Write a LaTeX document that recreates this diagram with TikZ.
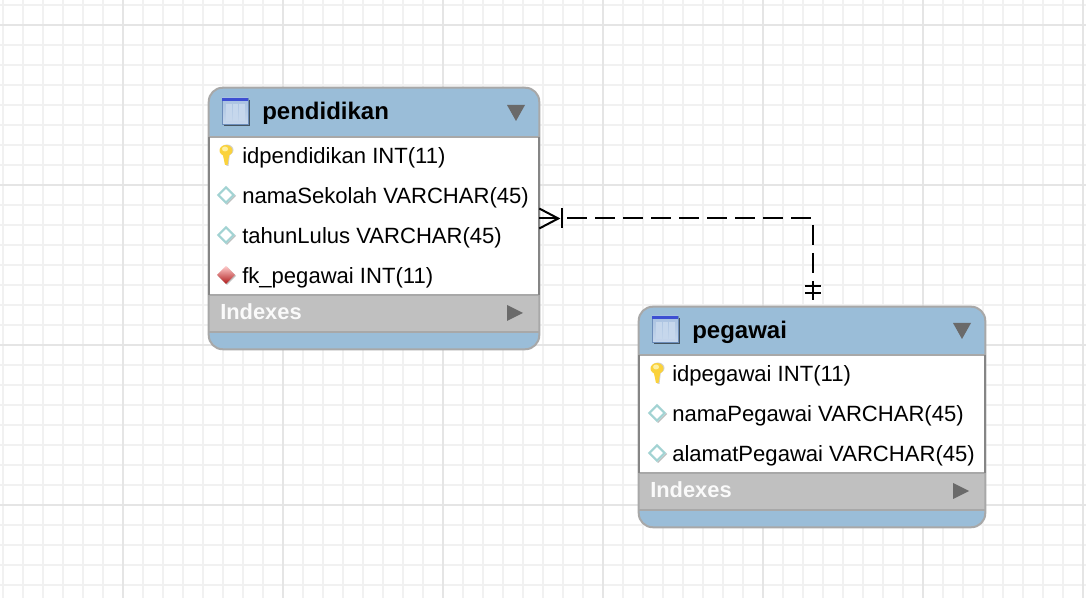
\documentclass[tikz,border=0pt]{standalone}
\usepackage{fontspec}
\setmainfont{Liberation Sans}
\definecolor{hdr}{HTML}{9ABDD8}
\definecolor{idx}{HTML}{C0C0C0}
\definecolor{edge}{HTML}{A8A8A8}
\definecolor{sidee}{HTML}{858585}
\definecolor{gridminor}{HTML}{F1F1F1}
\definecolor{gridmajor}{HTML}{E5E5E5}
\definecolor{tri}{HTML}{6A6A6A}
\definecolor{icbody}{HTML}{A8C1E0}
\definecolor{iccol}{HTML}{C6D7EC}
\definecolor{icbar}{HTML}{3D4FD2}
\definecolor{icline}{HTML}{6C8DBA}
\definecolor{keygold}{HTML}{FAD23C}
\definecolor{keylight}{HTML}{FDF0A0}
\definecolor{dmteal}{HTML}{A2D3D3}
\tikzset{
  tablebox/.style={rectangle,rounded corners=10.5pt,fill=white,inner sep=0pt},
  titletext/.style={anchor=base west,inner sep=0pt,font=\fontsize{18}{20}\selectfont\bfseries,text=black},
  rowtext/.style={anchor=base west,inner sep=0pt,font=\fontsize{16.55}{18}\selectfont,text=black},
  idxtext/.style={anchor=base west,inner sep=0pt,font=\fontsize{16.4}{18}\selectfont\bfseries,text=white!92!idx},
  dashconn/.style={draw=black,line width=1.5pt,dash pattern=on 15pt off 6pt},
  solidconn/.style={draw=black,line width=1.5pt},
  pics/tableicon/.style={code={
    \fill[black!55!hdr] (2,2) rectangle (28,28);
    \shade[top color=icbody,bottom color=iccol] (0,0) rectangle (26,26);
    \fill[iccol] (4,6) rectangle (9.5,23);
    \fill[iccol] (11,6) rectangle (15.5,23);
    \fill[iccol] (17,6) rectangle (22.5,23);
    \draw[icline,line width=.7pt] (0,0) rectangle (26,26);
    \fill[icbar] (0,0) rectangle (26,3.5);
  }},
  pics/keyicon/.style={code={
    \fill[black!18] (1,-3) ellipse (6.5 and 5.5);
    \fill[black!18] (-1,0) -- (4,0) -- (2.5,13) -- (.5,13) -- cycle;
    \fill[keygold] (0,-2.5) ellipse (6.5 and 5.5);
    \fill[keygold] (-3.5,0) -- (3.5,0) -- (1.5,12) -- (-1,12) -- cycle;
    \fill[keylight] (-1,-4) ellipse (3 and 2.5);
  }},
  pics/coldiamond/.style={code={
    \fill[black!25] (1,-8) -- (10,1) -- (1,10) -- (-8,1) -- cycle;
    \fill[white] (0,-9) -- (9,0) -- (0,9) -- (-9,0) -- cycle;
    \draw[dmteal,line width=1.6pt] (0,-7.6) -- (7.6,0) -- (0,7.6) -- (-7.6,0) -- cycle;
  }},
  pics/fkdiamond/.style={code={
    \fill[black!25] (1,-8) -- (10,1) -- (1,10) -- (-8,1) -- cycle;
    \shade[top color=red!20!white,bottom color=red!65!black!90!white] (0,-9) -- (9,0) -- (0,9) -- (-9,0) -- cycle;
  }},
  pics/tridown/.style={code={\fill[tri] (0,0) -- (18,0) -- (9,16) -- cycle;}},
  pics/triright/.style={code={\fill[tri] (0,0) -- (16,8) -- (0,16) -- cycle;}},
}
\begin{document}
\begin{tikzpicture}[x=0.75pt,y=-0.75pt]
\useasboundingbox (0,0) rectangle (1086,598);
\fill[white] (0,0) rectangle (1086,598);
% grid
\foreach \gx in {3,23,...,1083} \draw[gridminor,line width=1.5pt] (\gx,0) -- (\gx,598);
\foreach \gy in {5,25,...,585} \draw[gridminor,line width=1.5pt] (0,\gy) -- (1086,\gy);
\foreach \gx in {123,283,443,603,763,923,1083} \draw[gridmajor,line width=1.5pt] (\gx,0) -- (\gx,598);
\foreach \gy in {25,185,345,505} \draw[gridmajor,line width=1.5pt] (0,\gy) -- (1086,\gy);

% ---- pendidikan
\node[tablebox,minimum width=330*0.75pt,minimum height=261*0.75pt] (pendidikan) at (374,218.5) {};
\fill[hdr,rounded corners=10.5pt] (209,88) rectangle (539,150);
\fill[white] (209,137) rectangle (539,160);
\fill[hdr,rounded corners=10.5pt] (209,320) rectangle (539,349);
\fill[idx] (209,295) rectangle (539,332);
\draw[edge,line width=1.5pt] (209,137) -- (539,137);
\draw[edge,line width=1.5pt] (209,295) -- (539,295);
\draw[edge,line width=1.5pt] (209,332.5) -- (539,332.5);
\draw[edge,line width=1.5pt,rounded corners=10.5pt] (pendidikan.north west) rectangle (pendidikan.south east);
\draw[sidee,line width=1.5pt] (209,137) -- (209,295) (539,137) -- (539,295);
\pic at (222,98) {tableicon};
\node[titletext] (pendtitle) at (262,120) {pendidikan};
\pic at (507,105) {tridown};
\pic at (226,153) {keyicon};
\node[rowtext] (r1) at (242,163.5) {idpendidikan INT(11)};
\pic at (226,195) {coldiamond};
\node[rowtext] (r2) at (242,203.5) {namaSekolah VARCHAR(45)};
\pic at (226,235) {coldiamond};
\node[rowtext] (r3) at (242,243.5) {tahunLulus VARCHAR(45)};
\pic at (226,275) {fkdiamond};
\node[rowtext] (r4) at (242,283.5) {fk\_pegawai INT(11)};
\node[idxtext] (pendidx) at (220,319.5) {Indexes};
\pic at (507,305) {triright};

% ---- pegawai
\node[tablebox,minimum width=346*0.75pt,minimum height=220*0.75pt] (pegawai) at (812,417) {};
\fill[hdr,rounded corners=10.5pt] (639,307) rectangle (985,368);
\fill[white] (639,355) rectangle (985,378);
\fill[hdr,rounded corners=10.5pt] (639,498) rectangle (985,527);
\fill[idx] (639,473) rectangle (985,510);
\draw[edge,line width=1.5pt] (639,355) -- (985,355);
\draw[edge,line width=1.5pt] (639,473) -- (985,473);
\draw[edge,line width=1.5pt] (639,510.5) -- (985,510.5);
\draw[edge,line width=1.5pt,rounded corners=10.5pt] (pegawai.north west) rectangle (pegawai.south east);
\draw[sidee,line width=1.5pt] (639,355) -- (639,473) (985,355) -- (985,473);
\pic at (652,316) {tableicon};
\node[titletext] (pegtitle) at (692,339) {pegawai};
\pic at (953,323) {tridown};
\pic at (657,371) {keyicon};
\node[rowtext] (s1) at (672,381.5) {idpegawai INT(11)};
\pic at (657,413) {coldiamond};
\node[rowtext] (s2) at (672,421.5) {namaPegawai VARCHAR(45)};
\pic at (657,453) {coldiamond};
\node[rowtext] (s3) at (672,461.5) {alamatPegawai VARCHAR(45)};
\node[idxtext] (pegidx) at (650,497.5) {Indexes};
\pic at (953,483) {triright};

% ---- connector
\coordinate (crowtip) at ([xshift=19*0.75pt]pendidikan.east);
\coordinate (crowbar) at ([xshift=23*0.75pt]pendidikan.east);
\coordinate (dashstart) at ([xshift=28*0.75pt]pendidikan.east);
\coordinate (pegtop) at ([xshift=0.75pt]pegawai.north);
\coordinate (onestart) at ([yshift=25*0.75pt]pegtop);
\coordinate (tickA) at ([yshift=21*0.75pt]pegtop);
\coordinate (tickB) at ([yshift=14*0.75pt]pegtop);
\draw[dashconn] (dashstart) -| (onestart);
\draw[solidconn] ([yshift=10*0.75pt]pendidikan.east) -- (crowtip) -- ([yshift=-10*0.75pt]pendidikan.east);
\draw[solidconn] (pendidikan.east) -- (crowtip);
\draw[solidconn] ([yshift=10*0.75pt]crowbar) -- ([yshift=-10*0.75pt]crowbar);
\draw[solidconn] (onestart) -- ([yshift=7*0.75pt]pegtop);
\draw[solidconn] ([xshift=-8*0.75pt]tickA) -- ([xshift=8*0.75pt]tickA);
\draw[solidconn] ([xshift=-8*0.75pt]tickB) -- ([xshift=8*0.75pt]tickB);
\end{tikzpicture}
\end{document}
